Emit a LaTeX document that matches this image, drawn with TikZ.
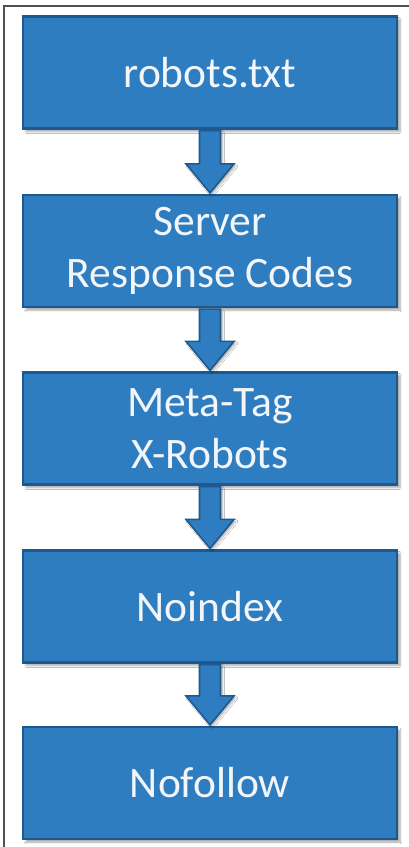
\documentclass[tikz,border=0pt]{standalone}
\usepackage{fontspec}
\setmainfont{Carlito}
\usetikzlibrary{calc,shadows.blur}
\definecolor{boxfill}{RGB}{46,125,192}
\definecolor{boxline}{RGB}{30,88,140}
\definecolor{txtcol}{RGB}{242,246,250}
\definecolor{framecol}{RGB}{80,80,80}
\tikzset{
  stepbox/.style={draw=boxline, line width=2.2pt, fill=boxfill, minimum width=374pt, minimum height=112pt,
    align=center, text=txtcol, font=\fontsize{43.5}{52}\selectfont, inner sep=0pt,
    blur shadow={shadow xshift=3pt, shadow yshift=-3pt, shadow blur steps=6, shadow opacity=35}},
  barrow/.style={draw=boxline, line width=1.6pt, fill=boxfill, line join=miter,
    blur shadow={shadow xshift=2pt, shadow yshift=-2pt, shadow blur steps=5, shadow opacity=30}}
}
\begin{document}
\begin{tikzpicture}[x=1pt,y=-1pt]
\useasboundingbox (0,0) rectangle (409,847);
\fill[white] (0,0) rectangle (409,847);
\draw[framecol, line width=1.4pt] (4,847) -- (4,6) -- (409,6);
\node[stepbox] (b1) at (210,72.5) {robots.txt};
\node[stepbox] (b2) at (210,251) {Server\\Response Codes};
\node[stepbox] (b3) at (210,428.5) {Meta-Tag\\X-Robots};
\node[stepbox] (b4) at (210,606.5) {Noindex};
\node[stepbox] (b5) at (210,783) {Nofollow};
\foreach \a/\b in {b1/b2,b2/b3,b3/b4,b4/b5}{
  \draw[barrow] ($(\a.south)+(-10.5,1)$) -- ($(\a.south)+(10.5,1)$) -- ($(\b.north)+(10.5,-30)$)
    -- ($(\b.north)+(24,-30)$) -- ($(\b.north)+(0,-1)$) -- ($(\b.north)+(-24,-30)$)
    -- ($(\b.north)+(-10.5,-30)$) -- cycle;
}
\end{tikzpicture}
\end{document}
